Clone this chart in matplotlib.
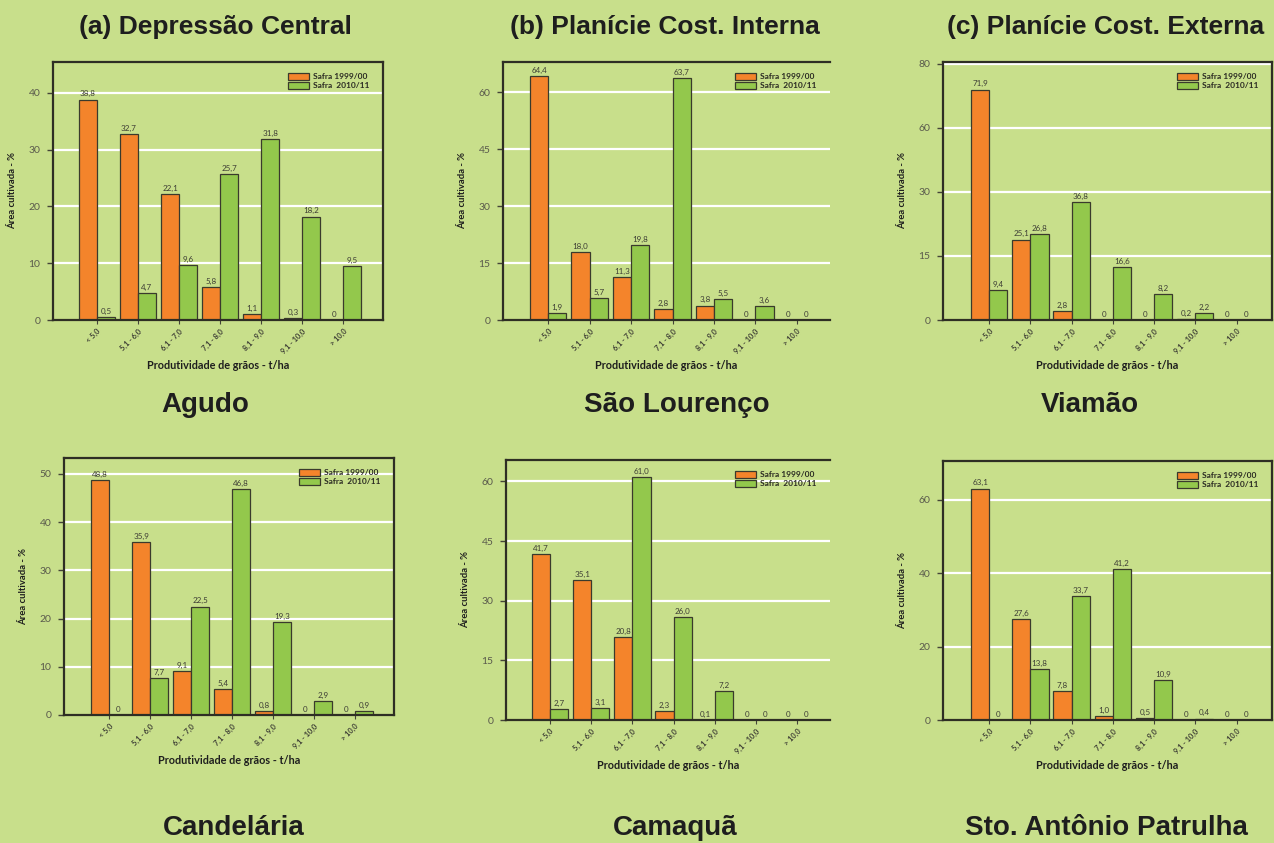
import numpy as np
import matplotlib
matplotlib.use("Agg")
import matplotlib.pyplot as plt

# ---------------- data ----------------
categories = ["< 5,0", "5,1 - 6,0", "6,1 - 7,0", "7,1 - 8,0", "8,1 - 9,0", "9,1 - 10,0", "> 10,0"]
series_names = ["Safra 1999/00", "Safra  2010/11"]

agudo_1999 = [38.8, 32.7, 22.1, 5.8, 1.1, 0.3, 0]
agudo_2010 = [0.5, 4.7, 9.6, 25.7, 31.8, 18.2, 9.5]

saolourenco_1999 = [64.4, 18.0, 11.3, 2.8, 3.8, 0, 0]
saolourenco_2010 = [1.9, 5.7, 19.8, 63.7, 5.5, 3.6, 0]

viamao_1999 = [71.9, 25.1, 2.8, 0, 0, 0.2, 0]
viamao_2010 = [9.4, 26.8, 36.8, 16.6, 8.2, 2.2, 0]

candelaria_1999 = [48.8, 35.9, 9.1, 5.4, 0.8, 0, 0]
candelaria_2010 = [0, 7.7, 22.5, 46.8, 19.3, 2.9, 0.9]

camaqua_1999 = [41.7, 35.1, 20.8, 2.3, 0.1, 0, 0]
camaqua_2010 = [2.7, 3.1, 61.0, 26.0, 7.2, 0, 0]

stoantonio_1999 = [63.1, 27.6, 7.8, 1.0, 0.5, 0, 0]
stoantonio_2010 = [0, 13.8, 33.7, 41.2, 10.9, 0.4, 0]

region_titles = ["(a) Depressão Central", "(b) Planície Cost. Interna", "(c) Planície Cost. Externa"]
municipios = ["Agudo", "São Lourenço", "Viamão", "Candelária", "Camaquã", "Sto. Antônio Patrulha"]

yticks_agudo = [0, 10, 20, 30, 40]
yticks_saolourenco = [0, 15, 30, 45, 60]
yticks_viamao = [0, 20, 40, 60, 80]
yticklabels_viamao = ["0", "15", "30", "60", "80"]   # as printed in the original
yticks_candelaria = [0, 10, 20, 30, 40, 50]
yticks_camaqua = [0, 15, 30, 45, 60]
yticks_stoantonio = [0, 20, 40, 60]

# ---------------- style ----------------
W, H = 1274, 843
BG = "#c8df8b"
ORANGE = "#f4842b"
GREEN = "#93c84c"
EDGE = "#3a3a2c"
TXT = "#1e1e1e"
TICKC = "#5a5a4c"
SMALL_FONT = ["Lato", "DejaVu Sans"]
TITLE_FONT = ["Liberation Sans", "DejaVu Sans"]

fig = plt.figure(figsize=(W / 100, H / 100), dpi=100, facecolor=BG)

def rect(l, t, r, b):
    return [l / W, 1 - b / H, (r - l) / W, (b - t) / H]

panels = [
    dict(a=agudo_1999, b=agudo_2010, box=(53, 62, 383, 320), xlim=(-1.07, 6.97),
         ylim=45.4, ticks=yticks_agudo, labels=None, cut=False),
    dict(a=saolourenco_1999, b=saolourenco_2010, box=(503, 62, 830, 320), xlim=(-1.09, 6.8),
         ylim=68, ticks=yticks_saolourenco, labels=None, cut=True),
    dict(a=viamao_1999, b=viamao_2010, box=(943, 62, 1272, 320), xlim=(-1.12, 6.86),
         ylim=80.5, ticks=yticks_viamao, labels=yticklabels_viamao, cut=False),
    dict(a=candelaria_1999, b=candelaria_2010, box=(64, 458, 394, 715), xlim=(-1.1, 6.95),
         ylim=53.3, ticks=yticks_candelaria, labels=None, cut=False),
    dict(a=camaqua_1999, b=camaqua_2010, box=(506, 460, 830, 720), xlim=(-1.07, 6.8),
         ylim=65.4, ticks=yticks_camaqua, labels=None, cut=True),
    dict(a=stoantonio_1999, b=stoantonio_2010, box=(943, 461, 1272, 720), xlim=(-1.12, 6.86),
         ylim=70.6, ticks=yticks_stoantonio, labels=None, cut=False),
]

def fmt(v):
    return "0" if v == 0 else f"{v:.1f}".replace(".", ",")

x = np.arange(len(categories))
w = 0.44
for p in panels:
    l, t, r, b = p["box"]
    ax = fig.add_axes(rect(l, t, r, b))
    ax.set_facecolor(BG)
    ax.set_xlim(*p["xlim"])
    ax.set_ylim(0, p["ylim"])
    ax.set_axisbelow(True)
    for yv in p["ticks"][1:]:
        if yv < p["ylim"]:
            ax.axhline(yv, color="white", lw=1.6, zorder=0.5)
    ba = ax.bar(x - w / 2, p["a"], w, color=ORANGE, edgecolor=EDGE, linewidth=0.9,
                label=series_names[0], zorder=2)
    bb = ax.bar(x + w / 2, p["b"], w, color=GREEN, edgecolor=EDGE, linewidth=0.9,
                label=series_names[1], zorder=2)
    for bars, vals in ((ba, p["a"]), (bb, p["b"])):
        for rr, v in zip(bars, vals):
            ax.annotate(fmt(v), (rr.get_x() + rr.get_width() / 2, v), xytext=(0, 1.5),
                        textcoords="offset points", ha="center", va="bottom",
                        fontsize=5.8, color="#3c3c34", family=SMALL_FONT, zorder=3)
    ax.set_yticks(p["ticks"])
    if p["labels"] is not None:
        ax.set_yticklabels(p["labels"])
    ax.set_xticks(x)
    ax.set_xticklabels(categories, rotation=45, ha="right", va="top",
                       rotation_mode="anchor", fontsize=5.3, fontweight="bold",
                       color="#3c3c34", family=SMALL_FONT)
    ax.tick_params(axis="y", length=4, width=1, color="#444438", labelsize=7.5,
                   labelcolor=TICKC, pad=5)
    ax.tick_params(axis="x", length=3, width=0.8, color="#444438", pad=2.5)
    for lab in ax.get_yticklabels():
        lab.set_family(SMALL_FONT)
    for s in ax.spines.values():
        s.set_color("#2e2e24")
        s.set_linewidth(1.6)
    if p["cut"]:
        ax.spines["right"].set_visible(False)
    axw, axh = r - l, b - t
    ax.set_xlabel("Produtividade de grãos - t/ha", fontsize=7.8, fontweight="bold",
                  color=TXT, family=SMALL_FONT)
    ax.xaxis.set_label_coords(0.5, -40 / axh)
    ax.set_ylabel("Área cultivada - %", fontsize=6.8, fontweight="bold",
                  color=TXT, family=SMALL_FONT)
    ax.yaxis.set_label_coords(-36 / axw, 0.5)
    leg = ax.legend(loc="upper right", bbox_to_anchor=(1 - 8 / axw, 1 - 5 / axh),
                    frameon=False, handlelength=2.5, handleheight=1.0,
                    handletextpad=0.5, labelspacing=0.15, borderpad=0.2,
                    prop=dict(family=SMALL_FONT, weight="bold", size=6.0))
    for txt in leg.get_texts():
        txt.set_color("#2a2a22")

# titles
title_x = [215, 665, 1106]
for tx, tt in zip(title_x, region_titles):
    fig.text(tx / W, 1 - 27 / H, tt, ha="center", va="center", fontsize=19,
             fontweight="bold", color=TXT, family=TITLE_FONT)

name_pos = [(205, 405), (677, 405), (1090, 405), (234, 828), (675, 828), (1106, 828)]
for (nx, ny), nm in zip(name_pos, municipios):
    fig.text(nx / W, 1 - ny / H, nm, ha="center", va="center", fontsize=20,
             fontweight="bold", color=TXT, family=TITLE_FONT)

fig.savefig("out.png", dpi=100, facecolor=BG)
